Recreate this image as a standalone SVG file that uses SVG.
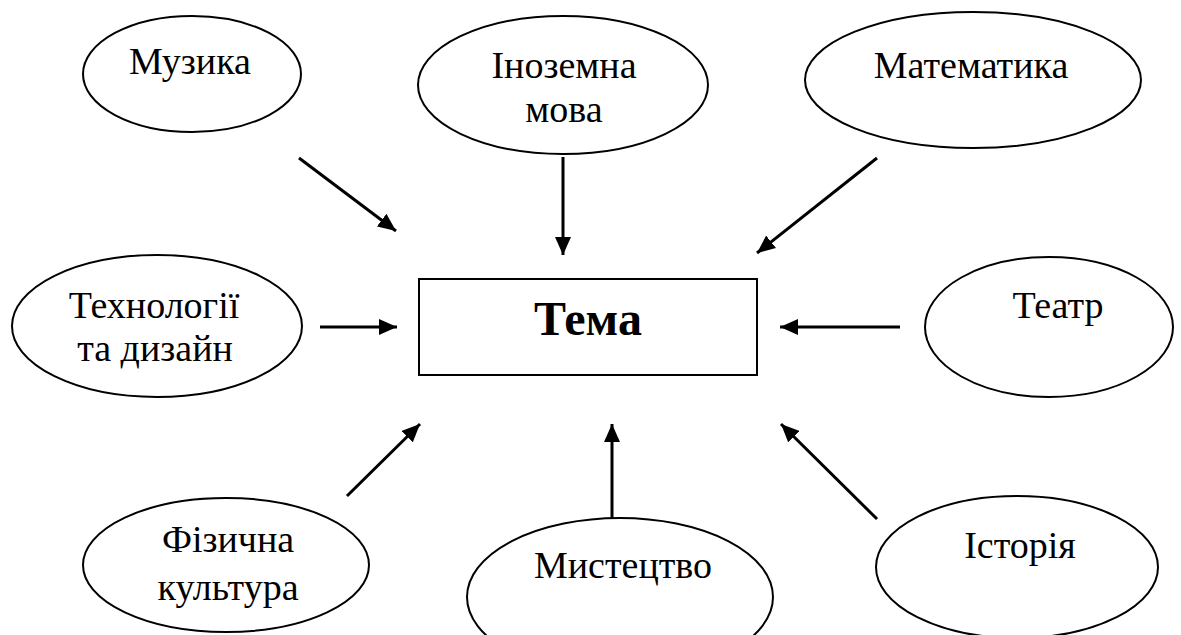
<svg xmlns="http://www.w3.org/2000/svg" width="1181" height="635" viewBox="0 0 1181 635">
<style>
.n ellipse{fill:#fff;stroke:#000;stroke-width:2}
.t{font-family:"Liberation Serif","Times New Roman",serif;font-size:38px;fill:#000;text-anchor:middle}
.b{font-size:48px;font-weight:bold}
.c line{stroke:#000;stroke-width:3;marker-end:url(#ah)}
</style>
<defs>
<marker id="ah" markerUnits="userSpaceOnUse" markerWidth="18" markerHeight="16" refX="18" refY="8" orient="auto" viewBox="0 0 18 16">
<path d="M0,0 L18,8 L0,16 Z" fill="#000"/>
</marker>
</defs>
<rect width="1181" height="635" fill="#fff"/>
<g id="tema">
<rect x="419" y="279" width="338" height="96" fill="#fff" stroke="#000" stroke-width="2"/>
<text x="588" y="335" class="t b">Тема</text>
</g>
<g id="muzyka" class="n"><ellipse cx="192" cy="74" rx="109" ry="58"/><text class="t" x="190" y="74">Музика</text></g>
<g id="inozemna" class="n"><ellipse cx="563" cy="85" rx="145" ry="69"/><text class="t" x="564" y="78">Іноземна</text><text class="t" x="564" y="122">мова</text></g>
<g id="matematyka" class="n"><ellipse cx="973" cy="80" rx="168" ry="68"/><text class="t" x="971" y="78">Математика</text></g>
<g id="tekhnolohii" class="n"><ellipse cx="157" cy="326" rx="145" ry="71"/><text class="t" x="154" y="318">Технології</text><text class="t" x="155" y="361">та дизайн</text></g>
<g id="teatr" class="n"><ellipse cx="1049" cy="327" rx="124" ry="70"/><text class="t" x="1058" y="318">Театр</text></g>
<g id="fizychna" class="n"><ellipse cx="226" cy="565" rx="143" ry="67"/><text class="t" x="228" y="552">Фізична</text><text class="t" x="228" y="600">культура</text></g>
<g id="mystetstvo" class="n"><ellipse cx="620" cy="597" rx="153" ry="79"/><text class="t" x="623" y="578">Мистецтво</text></g>
<g id="istoriia" class="n"><ellipse cx="1017" cy="567" rx="141" ry="71"/><text class="t" x="1020" y="558">Історія</text></g>
<g id="connectors" class="c">
<line x1="299" y1="158" x2="396" y2="231"/>
<line x1="563" y1="157" x2="563" y2="255"/>
<line x1="877" y1="158" x2="757" y2="253"/>
<line x1="320" y1="327" x2="397" y2="327"/>
<line x1="900" y1="327" x2="780" y2="327"/>
<line x1="347" y1="496" x2="420" y2="424"/>
<line x1="612" y1="518" x2="612" y2="424"/>
<line x1="877" y1="519" x2="781" y2="424"/>
</g>
</svg>
